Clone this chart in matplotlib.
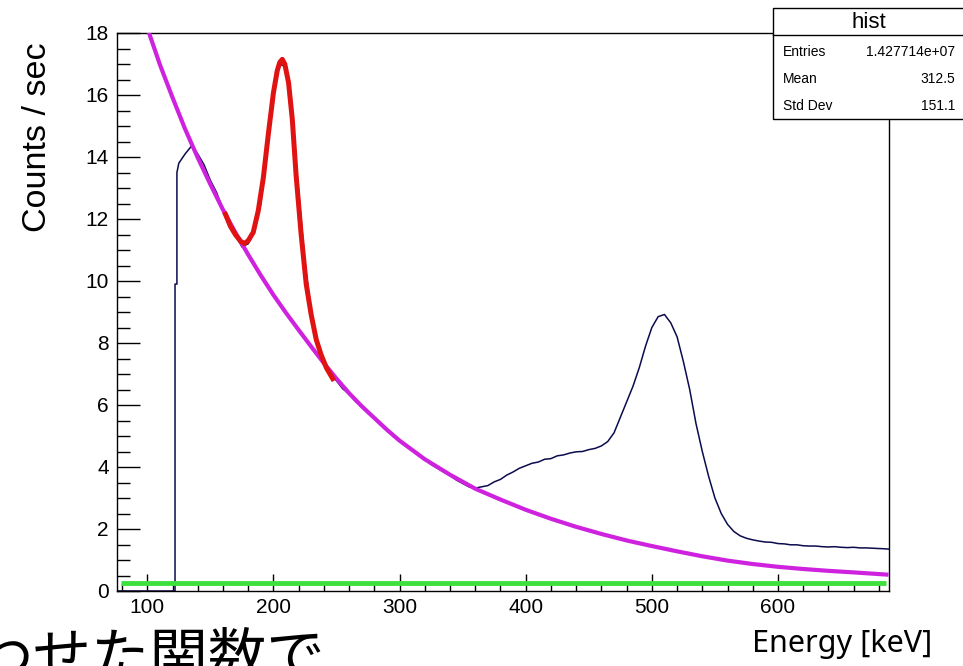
import numpy as np
import matplotlib
matplotlib.use("Agg")
from matplotlib import pyplot as plt
from matplotlib.patches import Rectangle
from matplotlib.ticker import MultipleLocator

# measured spectrum (counts / sec): threshold step near 122 keV, then 5 keV samples
hist_e = np.concatenate([[76, 122, 122, 123.5, 123.5], np.arange(125, 690, 5), [688]])
hist_vals = [0.0, 0.0, 9.9, 9.9, 13.5,
             13.8, 14.1, 14.35, 14.1, 13.75, 13.25, 12.85, 12.3, 11.9, 11.5,
             11.1, 11.2, 11.6, 12.5, 14.2, 16.0, 17.0, 16.9, 15.2, 12.9,
             10.6, 9.0, 8.0, 7.45, 7.0, 6.78, 6.52, 6.36, 6.12, 5.96,
             5.74, 5.6, 5.38, 5.22, 4.98, 4.86, 4.68, 4.56, 4.38, 4.26,
             4.08, 3.96, 3.84, 3.73, 3.58, 3.47, 3.36, 3.32, 3.36, 3.4,
             3.52, 3.6, 3.74, 3.84, 3.96, 4.04, 4.12, 4.16, 4.25, 4.27,
             4.36, 4.39, 4.45, 4.49, 4.5, 4.56, 4.6, 4.68, 4.82, 5.1,
             5.6, 6.1, 6.6, 7.2, 7.9, 8.5, 8.85, 8.92, 8.65, 8.2,
             7.4, 6.5, 5.4, 4.5, 3.7, 3.0, 2.5, 2.15, 1.92, 1.78,
             1.7, 1.65, 1.61, 1.58, 1.57, 1.53, 1.52, 1.49, 1.49, 1.46,
             1.45, 1.45, 1.43, 1.42, 1.43, 1.41, 1.4, 1.41, 1.39, 1.39,
             1.38, 1.37, 1.36, 1.35]

# background component (magenta)
bkg_e = [101, 110, 120, 130, 140, 150, 160, 170, 180, 190, 200, 210, 220,
         230, 240, 250, 260, 270, 280, 290, 300, 320, 340, 360, 380, 400,
         420, 440, 460, 480, 500, 520, 540, 560, 580, 600, 620, 640, 660, 686]
bkg_y = [18.05, 16.98, 15.92, 14.9, 13.98, 13.12, 12.3, 11.55, 10.85, 10.18,
         9.55, 8.97, 8.42, 7.88, 7.35, 6.85, 6.38, 5.96, 5.58, 5.2, 4.85, 4.25,
         3.75, 3.3, 2.95, 2.62, 2.33, 2.07, 1.84, 1.63, 1.45, 1.28, 1.12,
         0.98, 0.87, 0.78, 0.71, 0.65, 0.6, 0.53]

# total fit over the 208 keV peak (red)
fit_e = [162, 166, 170, 174, 177, 180, 184, 188, 192, 196, 200, 203, 205,
         207, 209, 212, 215, 218, 222, 226, 230, 234, 238, 242, 247]
fit_y = [12.15, 11.76, 11.49, 11.28, 11.21, 11.3, 11.57, 12.27, 13.33,
         14.75, 16.07, 16.78, 17.05, 17.15, 17.0, 16.4, 15.2, 13.4, 11.5,
         9.9, 8.9, 8.1, 7.6, 7.2, 6.85]

# constant term (green)
const_e = [79, 686]
const_y = [0.25, 0.25]

stats_names = ["Entries", "Mean", "Std Dev"]
stats_vals = ["1.427714e+07", "312.5", "151.1"]

W, H = 963, 666
fig = plt.figure(figsize=(W / 100, H / 100), dpi=100)
ax = fig.add_axes([117 / W, 1 - 591 / H, (889 - 117) / W, (591 - 33) / H])

ax.plot(hist_e, hist_vals, color="#0b0b4e", lw=1.1, zorder=2)
ax.plot(const_e, const_y, color="#3ee03e", lw=3.5, solid_capstyle="butt", zorder=3)
ax.plot(bkg_e, bkg_y, color="#cf22df", lw=3.0, zorder=4)
ax.plot(fit_e, fit_y, color="#e01212", lw=3.6, zorder=5)

ax.set_xlim(76, 688)
ax.set_ylim(0, 18)
ax.xaxis.set_major_locator(MultipleLocator(100))
ax.xaxis.set_minor_locator(MultipleLocator(20))
ax.yaxis.set_major_locator(MultipleLocator(2))
ax.yaxis.set_minor_locator(MultipleLocator(0.5))
ax.tick_params(axis="both", which="both", direction="in", top=False, right=False,
               labelsize=15, width=1, color="black")
ax.tick_params(axis="y", which="major", length=16.5, pad=6)
ax.tick_params(axis="y", which="minor", length=9)
ax.tick_params(axis="x", which="major", length=12, pad=5)
ax.tick_params(axis="x", which="minor", length=6)
for lab in ax.get_xticklabels() + ax.get_yticklabels():
    lab.set_family("Liberation Sans")
for sp in ax.spines.values():
    sp.set_linewidth(1.0)

fig.text(37 / W, 1 - 137 / H, "Counts / sec", rotation=90, ha="center", va="center",
         fontsize=24.5, family="Liberation Sans")
fig.text(842 / W, 1 - 644 / H, "Energy [keV]", ha="center", va="center",
         fontsize=22, family="Noto Sans")
fig.text(-84 / W, 1 - 676 / H, "合わせた関数で", ha="left", va="baseline",
         fontsize=42, family=["Noto Sans CJK JP", "DejaVu Sans"])

# stats box
box = Rectangle((773 / W, 1 - 119 / H), (965 - 773) / W, (119 - 8) / H,
                transform=fig.transFigure, facecolor="white", edgecolor="black",
                lw=1.0, zorder=10)
fig.patches.append(box)
fig.add_artist(plt.Line2D([773 / W, 1.0], [1 - 35 / H, 1 - 35 / H],
                          transform=fig.transFigure, color="black", lw=1.0, zorder=11))
fig.text(869 / W, 1 - 22 / H, "hist", ha="center", va="center", fontsize=16,
         family="Liberation Sans", zorder=12)
row_y = [52, 79, 106]
for name, val, yy in zip(stats_names, stats_vals, row_y):
    fig.text(783 / W, 1 - yy / H, name, ha="left", va="center", fontsize=10,
             family="Liberation Sans", zorder=12)
    fig.text(955 / W, 1 - yy / H, val, ha="right", va="center", fontsize=10,
             family="Liberation Sans", zorder=12)

fig.savefig("out.png", dpi=100)
